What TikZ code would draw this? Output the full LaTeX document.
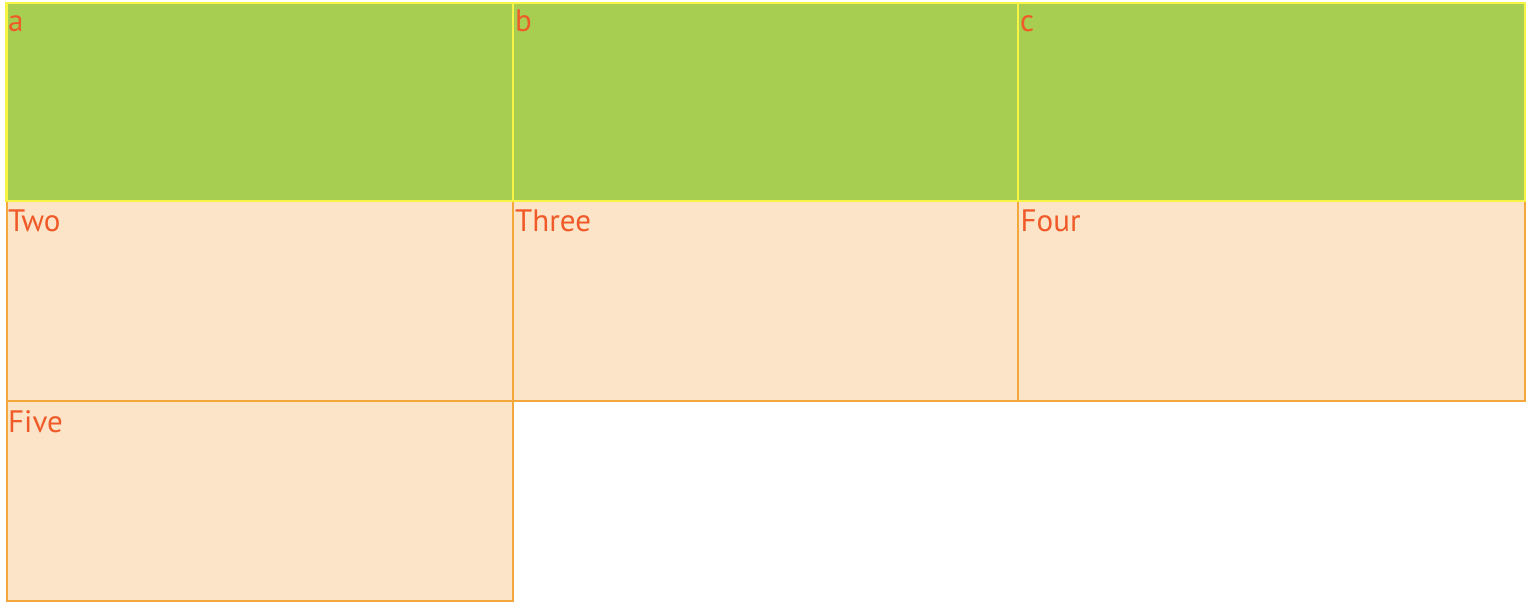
\documentclass[tikz,border=0pt]{standalone}
\usepackage{fontspec}
\setmainfont{PT Sans}
\usetikzlibrary{calc}
\definecolor{grfill}{HTML}{A8CE51}
\definecolor{yeline}{HTML}{F7F445}
\definecolor{orline}{HTML}{F4A83C}
\definecolor{orfill}{HTML}{FCE4C8}
\definecolor{txt}{HTML}{F05A28}
\tikzset{
  greenbox/.style={draw=yeline, fill=grfill, line width=2.6pt, anchor=north west, inner sep=0pt, outer sep=0pt},
  orangebox/.style={draw=orline, fill=orfill, line width=2pt, anchor=north west, inner sep=0pt, outer sep=0pt},
  lbl/.style={text=txt, font=\fontsize{31}{34}\selectfont, anchor=base west, inner sep=0pt}
}
\begin{document}
\begin{tikzpicture}[x=1pt,y=-1pt]
\useasboundingbox (0,0) rectangle (1528,612);
% orange row 2 and 3
\node[orangebox, minimum width=506pt, minimum height=200pt] (two) at (6.5,201) {};
\node[orangebox, minimum width=505pt, minimum height=200pt] (three) at (513,201) {};
\node[orangebox, minimum width=507pt, minimum height=200pt] (four) at (1018,201) {};
\node[orangebox, minimum width=506pt, minimum height=200pt] (five) at (6.5,401) {};
% green row 1
\node[greenbox, minimum width=506.5pt, minimum height=198pt] (a) at (6.5,3) {};
\node[greenbox, minimum width=505pt, minimum height=198pt] (b) at (513,3) {};
\node[greenbox, minimum width=507pt, minimum height=198pt] (c) at (1018,3) {};
% labels
\node[lbl] (ta) at ($(a.north west)+(1.5,29)$) {a};
\node[lbl] (tb) at ($(b.north west)+(2,29)$) {b};
\node[lbl] (tc) at ($(c.north west)+(2,29)$) {c};
\node[lbl] (ttwo) at ($(two.north west)+(1.5,31)$) {Two};
\node[lbl] (tthree) at ($(three.north west)+(2,31)$) {Three};
\node[lbl] (tfour) at ($(four.north west)+(2.5,31)$) {Four};
\node[lbl] (tfive) at ($(five.north west)+(1.5,31)$) {Five};
\end{tikzpicture}
\end{document}
